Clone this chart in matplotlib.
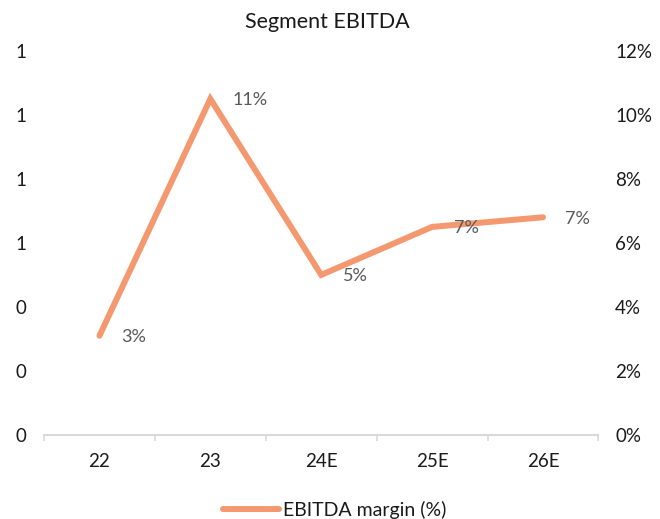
import numpy as np
import matplotlib
matplotlib.use("Agg")
from matplotlib import pyplot as plt
from matplotlib.ticker import FixedLocator, PercentFormatter

plt.rcParams["font.family"] = ["Lato", "DejaVu Sans"]

years = ["22", "23", "24E", "25E", "26E"]
margin = [3.1, 10.5, 5.0, 6.5, 6.8]  # EBITDA margin, %
margin_labels = ["3%", "11%", "5%", "7%", "7%"]
left_ticks = [0, 0.2, 0.4, 0.6, 0.8, 1.0, 1.2]
right_ticks = [0, 2, 4, 6, 8, 10, 12]

line_color = "#F4996F"
grid_color = "#D9D9D9"
text_color = "#1A1A1A"
label_color = "#595959"

fig = plt.figure(figsize=(6.6, 5.19), dpi=100)
ax = fig.add_axes([0.0667, 0.162, 0.84, 0.740])
ax2 = ax.twinx()

x = np.arange(len(years))

# left axis is empty, just the odd rounded labels
ax.set_ylim(0, 1.2)
ax.set_yticks(left_ticks)
ax.set_yticklabels([f"{v:.0f}" for v in left_ticks])
ax.set_xlim(-0.5, len(years) - 0.5)
ax.xaxis.set_major_locator(FixedLocator(np.arange(-0.5, len(years), 1.0)))
ax.xaxis.set_minor_locator(FixedLocator(x))
ax.set_xticklabels([], minor=False)
ax.set_xticklabels(years, minor=True)
ax.tick_params(axis="x", which="major", length=4, width=1.2, color=grid_color, direction="out")
ax.tick_params(axis="x", which="minor", length=0, pad=13, labelsize=13.5, labelcolor=text_color)
ax.tick_params(axis="y", length=0, pad=13, labelsize=13.5, labelcolor=text_color)
for s in ["top", "right", "left"]:
    ax.spines[s].set_visible(False)
ax.spines["bottom"].set_color(grid_color)
ax.spines["bottom"].set_linewidth(1.5)

ln, = ax2.plot(x, margin, color=line_color, lw=4.3, solid_capstyle="round",
               solid_joinstyle="miter", label="EBITDA margin (%)")
for xi, yi, t in zip(x, margin, margin_labels):
    ax2.annotate(t, (xi, yi), xytext=(16, -1), textcoords="offset points",
                 ha="left", va="center", fontsize=13, color=label_color)
ax2.set_ylim(0, 12)
ax2.set_yticks(right_ticks)
ax2.yaxis.set_major_formatter(PercentFormatter(decimals=0))
ax2.tick_params(axis="y", length=0, pad=12, labelsize=13.5, labelcolor=text_color)
for s in ["top", "right", "left", "bottom"]:
    ax2.spines[s].set_visible(False)

fig.text(0.496, 0.958, "Segment EBITDA", ha="center", va="center", fontsize=15.5, color=text_color)
fig.legend(handles=[ln], loc="center", bbox_to_anchor=(0.507, 0.017), frameon=False,
           fontsize=14, handlelength=2.9, handletextpad=0.2, labelcolor=text_color)

fig.savefig("out.png", dpi=100)
